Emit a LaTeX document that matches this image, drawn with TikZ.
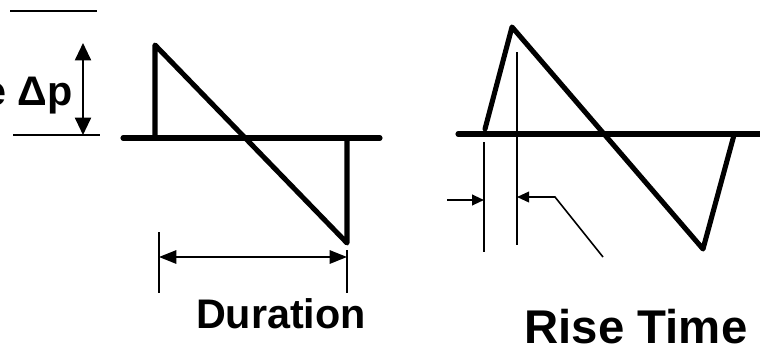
\documentclass[tikz,border=0pt]{standalone}
\usepackage{fontspec}
\setmainfont{Liberation Sans}
\usetikzlibrary{arrows.meta}
\tikzset{
    wave/.style={line width=3.8pt,line join=round,line cap=round},
    axisline/.style={line width=3.8pt,line cap=round},
    dimline/.style={line width=1.5pt},
    bigtip/.style={dimline,{Triangle[length=13pt,width=12pt]}-{Triangle[length=13pt,width=12pt]}},
    durtip/.style={dimline,{Triangle[length=13pt,width=10pt]}-{Triangle[length=13pt,width=10pt]}},
    smalltip/.style={dimline,-{Triangle[length=9pt,width=8pt]}},
    lbl/.style={font=\bfseries,anchor=base,inner sep=0pt}
}
\begin{document}
\begin{tikzpicture}[x=0.75pt,y=-0.75pt]
\useasboundingbox (0,0) rectangle (760,354);
\clip (0,0) rectangle (760,354);

% amplitude marks
\draw[dimline] (10,11) -- (97,11);
\draw[dimline] (13,135) -- (100,135);
\coordinate (ptop) at (83,43);
\coordinate (pbot) at (83,135);
\draw[bigtip] (ptop) -- (pbot);
\node[lbl,anchor=base east,font=\fontsize{31}{31}\selectfont\bfseries] (dp) at (73,105) {e Δp};

% N-wave, ideal
\draw[axisline] (123,138) -- (380,138);
\coordinate (a0) at (155,136);
\coordinate (a1) at (155,45);
\coordinate (a2) at (347,243);
\coordinate (a3) at (347,138);
\draw[wave] (a0) -- (a1) -- (a2) -- (a3);

% duration
\draw[dimline] (159,232) -- (159,293);
\draw[dimline] (347,250) -- (347,293);
\coordinate (dl) at (159,257);
\coordinate (dr) at (347,257);
\draw[durtip] (dl) -- (dr);
\node[lbl,font=\fontsize{31}{31}\selectfont\bfseries] (dur) at (281,328) {Duration};

% N-wave, with rise time
\draw[axisline] (458,134) -- (770,134);
\coordinate (b0) at (485,129);
\coordinate (b1) at (512,27);
\coordinate (b2) at (703,249);
\coordinate (b3) at (734,135);
\draw[wave] (b0) -- (b1) -- (b2) -- (b3);

% rise time marks
\draw[dimline] (484,142) -- (484,252);
\draw[dimline] (517,52) -- (517,245);
\coordinate (rl) at (447,200);
\coordinate (rle) at (484,200);
\draw[smalltip] (rl) -- (rle);
\coordinate (lead) at (603,257);
\coordinate (bend) at (555,197);
\coordinate (rre) at (517,197);
\draw[smalltip,line width=1.2pt] (lead) -- (bend) -- (rre);
\node[lbl,font=\fontsize{35.5}{35.5}\selectfont\bfseries] (rise) at (636,343) {Rise Time};

\end{tikzpicture}
\end{document}
